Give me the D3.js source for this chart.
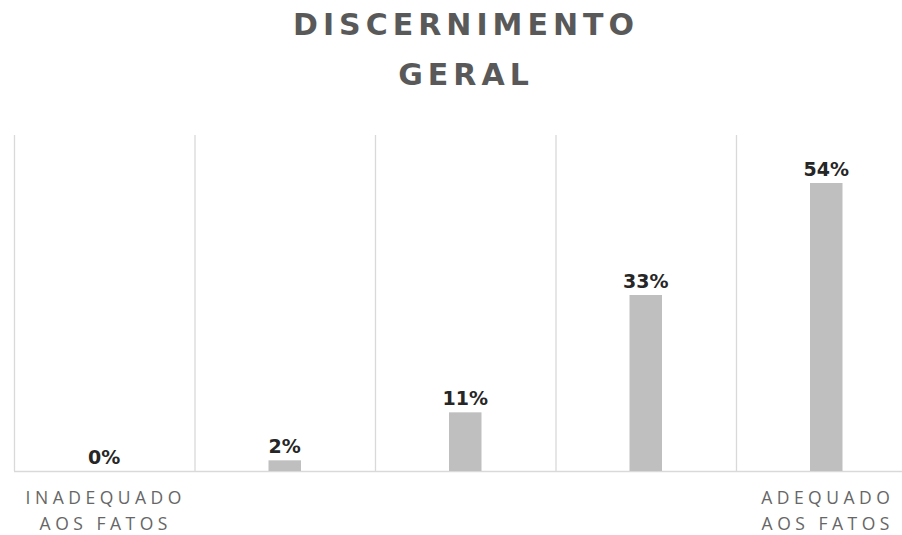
<!DOCTYPE html>
<html lang="pt">
  <head>
    <meta charset="UTF-8" />
    <title>Discernimento Geral</title>
    <style>
      body {
        margin: 0;
        background: #fff;
      }
      svg {
        display: block;
      }
    </style>
    <script src="https://d3js.org/d3.v7.min.js"></script>
  </head>
  <body>
  </body>
  <script>

    const titleLines = ["DISCERNIMENTO", "GERAL"]
    const categories = ["c1", "c2", "c3", "c4", "c5"]
    const tickLabels = [["INADEQUADO", "AOS FATOS"], [], [], [], ["ADEQUADO", "AOS FATOS"]]
    const values = [0, 2, 11, 33, 54]

    const W = 902, H = 535
    const plot = { left: 14, right: 916.5, top: 135, bottom: 471 }

    const svg = d3.select("body").append("svg")
        .attr("width", W)
        .attr("height", H)

    const x = d3.scaleBand()
        .domain(categories)
        .range([plot.left, plot.right])
        .padding(0)

    const y = d3.scaleLinear()
        .domain([0, 63])
        .range([plot.bottom, plot.top])

    const barW = x.bandwidth() * 0.18

    // vertical separators between categories
    svg.append("g")
      .selectAll("line")
      .data(categories)
      .enter().append("line")
        .attr("x1", d => x(d) + 0.5)
        .attr("x2", d => x(d) + 0.5)
        .attr("y1", plot.top)
        .attr("y2", plot.bottom)
        .attr("stroke", "#d9d9d9")
        .attr("stroke-width", 1.3)

    // baseline
    svg.append("line")
        .attr("x1", plot.left)
        .attr("x2", plot.right)
        .attr("y1", y(0) + 0.5)
        .attr("y2", y(0) + 0.5)
        .attr("stroke", "#d9d9d9")
        .attr("stroke-width", 1.6)

    svg.append("g")
      .selectAll("rect")
      .data(values)
      .enter().append("rect")
        .attr("x", (d, i) => x(categories[i]) + x.bandwidth() / 2 - barW / 2)
        .attr("y", d => y(d))
        .attr("width", barW)
        .attr("height", d => y(0) - y(d))
        .attr("fill", "#bfbfbf")

    svg.append("g")
      .selectAll("text")
      .data(values)
      .enter().append("text")
        .attr("x", (d, i) => x(categories[i]) + x.bandwidth() / 2)
        .attr("y", d => y(d) - 7)
        .attr("text-anchor", "middle")
        .attr("font-family", "'DejaVu Sans', sans-serif")
        .attr("font-weight", "bold")
        .attr("font-size", "19px")
        .attr("fill", "#262626")
        .text(d => d + "%")

    // category labels, two lines each
    const ticks = svg.append("g")
      .selectAll("text")
      .data(categories)
      .enter().append("text")
        .attr("text-anchor", "middle")
        .attr("font-family", "'Open Sans', sans-serif")
        .attr("font-size", "17.5px")
        .attr("letter-spacing", "4.5px")
        .attr("fill", "#666")

    ticks.selectAll("tspan")
      .data((d, i) => tickLabels[i].map(t => ({ t, cx: x(d) + x.bandwidth() / 2 + 1.5 })))
      .enter().append("tspan")
        .attr("x", d => d.cx)
        .attr("y", (d, j) => 504 + j * 26)
        .text(d => d.t)

    svg.append("g")
      .selectAll("text")
      .data(titleLines)
      .enter().append("text")
        .attr("x", 466)
        .attr("y", (d, i) => 35 + i * 50)
        .attr("text-anchor", "middle")
        .attr("font-family", "'DejaVu Sans', sans-serif")
        .attr("font-weight", "bold")
        .attr("font-size", "30px")
        .attr("letter-spacing", "5px")
        .attr("fill", "#595959")
        .text(d => d)
  </script>
</html>
